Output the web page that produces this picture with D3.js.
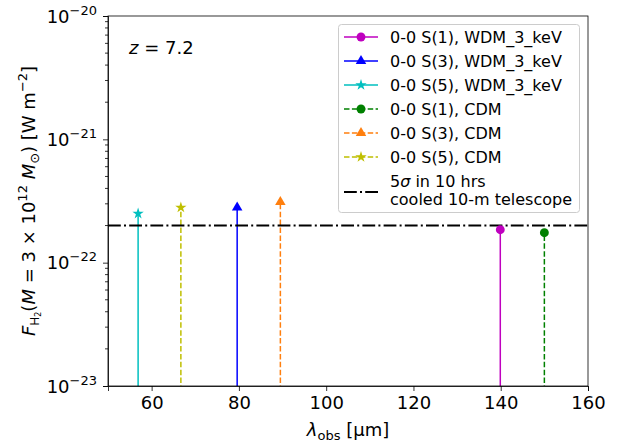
<!DOCTYPE html>
<html>
<head>
<meta charset="utf-8">
<script src="https://cdn.jsdelivr.net/npm/d3@7"></script>
<style>
  body { margin: 0; background: #fff; }
  text { font-family: "DejaVu Sans", sans-serif; fill: #000; }
</style>
</head>
<body>
<div id="chart"></div>
<script>
// Line data
const lineNames = ["0-0 S(1), WDM_3_keV", "0-0 S(3), WDM_3_keV", "0-0 S(5), WDM_3_keV",
                   "0-0 S(1), CDM", "0-0 S(3), CDM", "0-0 S(5), CDM"];
const lineWavelengths = [139.9, 79.6, 56.9, 150.0, 89.5, 66.7];
const lineFluxes = [1.85e-22, 2.8e-22, 2.5e-22, 1.75e-22, 3.1e-22, 2.8e-22];
const lineColors = ["#bf00bf", "#0000ff", "#00bfbf", "#008000", "#ff7f0e", "#bfbf00"];
const lineMarkers = ["circle", "triangle", "star", "circle", "triangle", "star"];
const lineDashed = [false, false, false, true, true, true];
const sensitivity = 2e-22;
const xTicks = [60, 80, 100, 120, 140, 160];
const yTicks = [1e-23, 1e-22, 1e-21, 1e-20];

const width = 626, height = 445;
const margin = {left: 108, right: 38, top: 16, bottom: 59};

const svg = d3.select('#chart').append('svg')
    .attr('width', width)
    .attr('height', height);

const x = d3.scaleLinear().domain([50, 160]).range([margin.left, width - margin.right]);
const y = d3.scaleLog().domain([1e-23, 1e-20]).range([height - margin.bottom, margin.top]);

svg.append('clipPath').attr('id', 'clip')
  .append('rect')
    .attr('x', margin.left).attr('y', margin.top)
    .attr('width', x.range()[1] - margin.left)
    .attr('height', y.range()[0] - margin.top);

const plot = svg.append('g').attr('clip-path', 'url(#clip)');

function markerPath(kind) {
    if (kind === 'circle') return d3.symbol(d3.symbolCircle, 62)();
    if (kind === 'triangle') return d3.symbol(d3.symbolTriangle, 48)();
    return d3.symbol(d3.symbolStar, 40)();
}

// Stems and markers
lineNames.forEach((name, i) => {
    plot.append('line')
        .attr('x1', x(lineWavelengths[i])).attr('x2', x(lineWavelengths[i]))
        .attr('y1', y.range()[0] + 5).attr('y2', y(lineFluxes[i]))
        .attr('stroke', lineColors[i])
        .attr('stroke-width', 1.5)
        .attr('stroke-dasharray', lineDashed[i] ? '5.5,2.4' : null);
});

// Sensitivity line
plot.append('line')
    .attr('x1', x.range()[0]).attr('x2', x.range()[1])
    .attr('y1', y(sensitivity)).attr('y2', y(sensitivity))
    .attr('stroke', '#000')
    .attr('stroke-width', 2)
    .attr('stroke-dasharray', '12.8,3.2,2,3.2');

lineNames.forEach((name, i) => {
    plot.append('path')
        .attr('d', markerPath(lineMarkers[i]))
        .attr('transform', `translate(${x(lineWavelengths[i])},${y(lineFluxes[i])})`)
        .attr('fill', lineColors[i]);
});

// Axes
const xAxis = svg.append('g')
    .attr('transform', `translate(0,${y.range()[0]})`)
    .call(d3.axisBottom(x).tickValues(xTicks).tickSize(5).tickPadding(5).tickFormat(d3.format('d')));
xAxis.selectAll('text').attr('font-size', 18).attr('font-family', 'DejaVu Sans');

const yAxis = svg.append('g')
    .attr('transform', `translate(${margin.left},0)`)
    .call(d3.axisLeft(y).tickValues(yTicks).tickSize(5).tickFormat(''));

// minor ticks
const minor = [];
for (let e = -23; e < -20; e++) for (let m = 2; m < 10; m++) minor.push(m * Math.pow(10, e));
yAxis.selectAll('.minor').data(minor).enter().append('line')
    .attr('class', 'minor')
    .attr('x1', 0).attr('x2', -3)
    .attr('y1', d => y(d)).attr('y2', d => y(d))
    .attr('stroke', '#000').attr('stroke-width', 0.8);

yAxis.selectAll('.ylab').data(yTicks).enter().append('text')
    .attr('class', 'ylab')
    .attr('x', -11).attr('y', d => y(d) + 6.5)
    .attr('text-anchor', 'end')
    .attr('font-size', 18)
    .each(function(d) {
        const t = d3.select(this);
        t.append('tspan').text('10');
        t.append('tspan').attr('dy', -8).attr('font-size', 13).text('\u2212' + Math.round(-Math.log10(d)));
    });

svg.selectAll('.domain').attr('stroke', '#000').attr('stroke-width', 0.8);
svg.selectAll('.tick line').attr('stroke', '#000').attr('stroke-width', 0.8);

// frame
svg.append('rect')
    .attr('x', margin.left).attr('y', margin.top)
    .attr('width', x.range()[1] - margin.left)
    .attr('height', y.range()[0] - margin.top)
    .attr('fill', 'none').attr('stroke', '#000').attr('stroke-width', 0.8);

// axis labels
const xl = svg.append('text')
    .attr('x', (x.range()[0] + x.range()[1]) / 2).attr('y', 436)
    .attr('text-anchor', 'middle').attr('font-size', 18);
xl.append('tspan').attr('font-style', 'italic').text('\u03bb');
xl.append('tspan').attr('dy', 4).attr('font-size', 13).text('obs');
xl.append('tspan').attr('dy', -4).text(' [\u00b5m]');

const yl = svg.append('text')
    .attr('transform', `translate(35,${(y.range()[0] + y.range()[1]) / 2}) rotate(-90)`)
    .attr('text-anchor', 'middle').attr('font-size', 18);
yl.append('tspan').attr('font-style', 'italic').text('F');
yl.append('tspan').attr('dy', 4).attr('font-size', 12).text('H');
yl.append('tspan').attr('dy', 2).attr('font-size', 8).text('2');
yl.append('tspan').attr('dy', -6).text('(');
yl.append('tspan').attr('font-style', 'italic').text('M');
yl.append('tspan').text(' = 3 \u00d7 10');
yl.append('tspan').attr('dy', -8).attr('font-size', 13).text('12');
yl.append('tspan').attr('dy', 8).text(' ');
yl.append('tspan').attr('font-style', 'italic').text('M');
yl.append('tspan').attr('dy', 4).attr('font-size', 13).text('\u2299');
yl.append('tspan').attr('dy', -4).text(') [W m');
yl.append('tspan').attr('dy', -8).attr('font-size', 13).text('\u22122');
yl.append('tspan').attr('dy', 8).text(']');

// redshift annotation
const zt = svg.append('text').attr('x', 129).attr('y', 54).attr('font-size', 18);
zt.append('tspan').attr('font-style', 'italic').text('z');
zt.append('tspan').text(' = 7.2');

// legend
const lg = svg.append('g');
lg.append('rect')
    .attr('x', 338.5).attr('y', 24.5).attr('width', 241).attr('height', 188)
    .attr('rx', 3).attr('fill', '#fff').attr('stroke', '#ccc').attr('stroke-width', 1);
lineNames.forEach((name, i) => {
    const cy = 37 + i * 24;
    lg.append('line')
        .attr('x1', 344).attr('x2', 378).attr('y1', cy).attr('y2', cy)
        .attr('stroke', lineColors[i]).attr('stroke-width', 1.5)
        .attr('stroke-dasharray', lineDashed[i] ? '5.5,2.4' : null);
    lg.append('path')
        .attr('d', markerPath(lineMarkers[i]))
        .attr('transform', `translate(361,${cy})`)
        .attr('fill', lineColors[i]);
    lg.append('text').attr('x', 390).attr('y', cy + 6).attr('font-size', 16).text(name);
});
lg.append('line')
    .attr('x1', 344).attr('x2', 378).attr('y1', 192).attr('y2', 192)
    .attr('stroke', '#000').attr('stroke-width', 2)
    .attr('stroke-dasharray', '12.8,3.2,2,3.2');
const l1 = lg.append('text').attr('x', 390).attr('y', 187).attr('font-size', 16);
l1.append('tspan').text('5');
l1.append('tspan').attr('font-style', 'italic').text('\u03c3');
l1.append('tspan').text(' in 10 hrs');
lg.append('text').attr('x', 390).attr('y', 205).attr('font-size', 16).text('cooled 10-m telescope');
</script>
</body>
</html>
